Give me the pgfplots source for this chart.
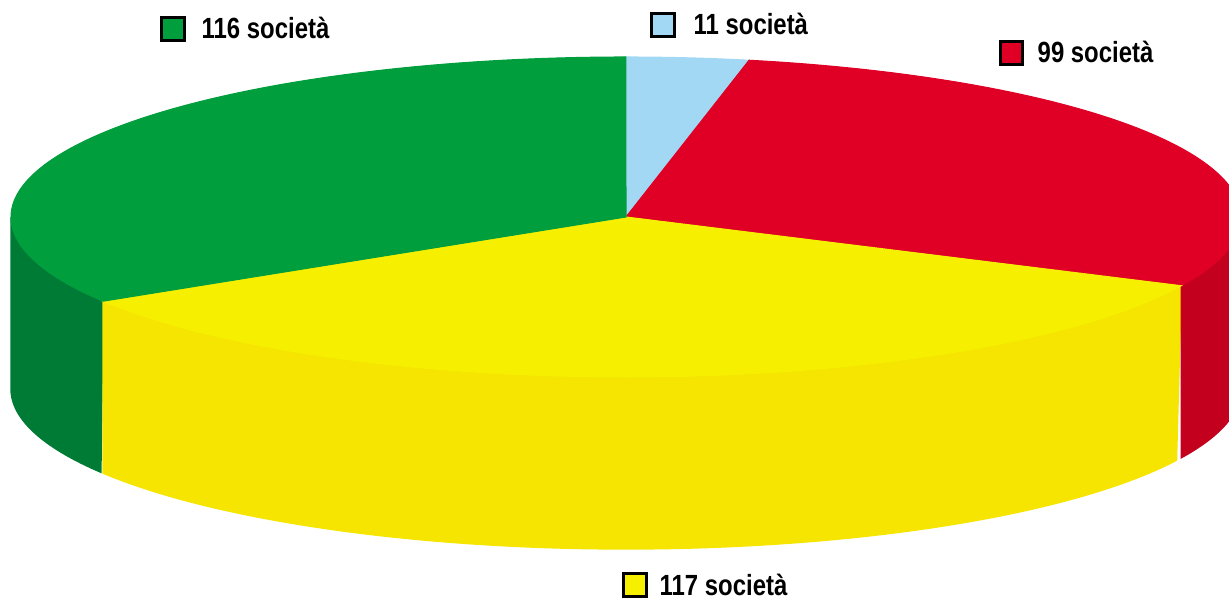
\documentclass[border=0pt]{standalone}
\usepackage{pgfplots}
\pgfplotsset{compat=1.18}
\usepackage{fontspec}
\setmainfont{Liberation Sans}[FakeStretch=0.82]
\definecolor{gtop}{HTML}{009E3D}
\definecolor{gside}{HTML}{007B36}
\definecolor{btop}{HTML}{A3D8F5}
\definecolor{rtop}{HTML}{E00025}
\definecolor{rside}{HTML}{C4001F}
\definecolor{ytop}{HTML}{F6F000}
\definecolor{yside}{HTML}{F5E500}
% data: number of companies per slice (clockwise from 12 o'clock)
\def\vB{11}\def\vR{99}\def\vY{117}\def\vG{116}
\pgfmathsetmacro{\tot}{\vB+\vR+\vY+\vG}
\pgfmathsetmacro{\aA}{90}
\pgfmathsetmacro{\aB}{\aA-\vB/\tot*360}
\pgfmathsetmacro{\aC}{\aB-\vR/\tot*360}
\pgfmathsetmacro{\aD}{\aC-\vY/\tot*360}
\pgfmathsetmacro{\aE}{\aD-\vG/\tot*360}
\begin{document}
\begin{tikzpicture}
\begin{axis}[
  scale only axis, width=122.9mm, height=60mm,
  xmin=0, xmax=1229, ymin=-600, ymax=0,
  hide axis, clip=true,
  declare function={
    ang(\t,\a,\b)=(\t<=1)*(\a+(\b-\a)*\t)+(\t>1)*(\b-(\b-\a)*(\t-1));
    cx=626; cy=-217; rx=615; ry=160; dp=172;
  },
]
\coordinate (SW) at (rel axis cs:0,0);
\coordinate (NE) at (rel axis cs:1,1);
% side walls (front)
\addplot[fill=gside, draw=gside, line width=0.4pt, domain=0:2, samples=161, variable=\t]
  ({cx+rx*cos(ang(\t,-180,\aD))},{cy-dp*(\t>1)+ry*sin(ang(\t,-180,\aD))}) -- cycle;
\addplot[fill=yside, draw=yside, line width=0.4pt, domain=0:2, samples=241, variable=\t]
  ({cx+rx*cos(ang(\t,\aD,\aC))},{cy-dp*(\t>1)+ry*sin(ang(\t,\aD,\aC))}) -- cycle;
\addplot[fill=rside, draw=rside, line width=0.4pt, domain=0:2, samples=121, variable=\t]
  ({cx+rx*cos(ang(\t,\aC,0))},{cy-dp*(\t>1)+ry*sin(ang(\t,\aC,0))}) -- cycle;
% top slices
\addplot[fill=btop, draw=btop, line width=0.3pt, domain=\aB:\aA, samples=30]
  ({cx+rx*cos(x)},{cy+ry*sin(x)}) -- (axis cs:626,-217) -- cycle;
\addplot[fill=rtop, draw=rtop, line width=0.3pt, domain=\aC:\aB, samples=120]
  ({cx+rx*cos(x)},{cy+ry*sin(x)}) -- (axis cs:626,-217) -- cycle;
\addplot[fill=ytop, draw=ytop, line width=0.3pt, domain=\aD:\aC, samples=140]
  ({cx+rx*cos(x)},{cy+ry*sin(x)}) -- (axis cs:626,-217) -- cycle;
\addplot[fill=gtop, draw=gtop, line width=0.3pt, domain=\aE:\aD, samples=140]
  ({cx+rx*cos(x)},{cy+ry*sin(x)}) -- (axis cs:626,-217) -- cycle;
% legend squares
\addplot[only marks, mark=square*, mark size=3.2pt, mark options={fill=gtop, draw=black, line width=0.85pt}] coordinates {(173,-29)};
\addplot[only marks, mark=square*, mark size=3.2pt, mark options={fill=btop, draw=black, line width=0.85pt}] coordinates {(663,-25)};
\addplot[only marks, mark=square*, mark size=3.2pt, mark options={fill=rtop, draw=black, line width=0.85pt}] coordinates {(1011.5,-53)};
\addplot[only marks, mark=square*, mark size=3.2pt, mark options={fill=ytop, draw=black, line width=0.85pt}] coordinates {(635,-585)};
\tikzset{lbl/.style={anchor=base west, inner sep=0pt, font=\fontsize{8.3pt}{10pt}\selectfont\bfseries}}
\node[lbl] at (axis cs:201,-39) {116 società};
\node[lbl] at (axis cs:693,-35) {11 società};
\node[lbl] at (axis cs:1037,-63) {99 società};
\node[lbl] at (axis cs:659,-596) {117 società};
\end{axis}
\pgfresetboundingbox
\path (SW) rectangle (NE);
\end{tikzpicture}
\end{document}
